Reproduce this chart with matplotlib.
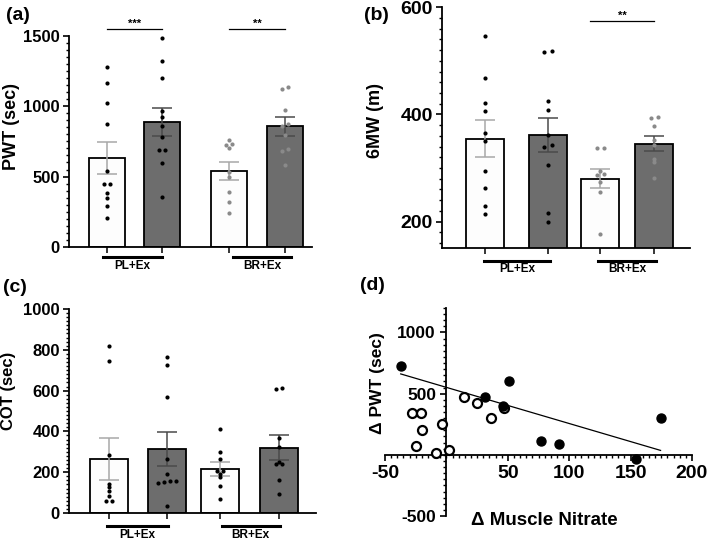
import numpy as np
import matplotlib.pyplot as plt
from matplotlib.ticker import MultipleLocator

plt.rcParams['font.family'] = ['Liberation Sans', 'DejaVu Sans']
plt.rcParams['font.weight'] = 'bold'
plt.rcParams['axes.unicode_minus'] = False

groups = ['PL+Ex', 'BR+Ex']

# (a) PWT (sec)
pwt_mean = [633, 889, 540, 856]
pwt_sem = [114, 100, 65, 66]
pwt_pts = [
    [1280, 1161, 1021, 875, 538, 448, 448, 384, 346, 289, 209],
    [1481, 1320, 1199, 967, 924, 858, 782, 690, 690, 593, 358],
    [763, 728, 723, 704, 529, 495, 391, 323, 242],
    [1138, 1124, 976, 872, 860, 794, 694, 682, 581],
]

# (b) 6MW (m)
mw_mean = [355, 361, 280, 345]
mw_sem = [34, 32, 18, 14]
mw_pts = [
    [546, 468, 422, 406, 365, 350, 295, 263, 229, 214],
    [518, 517, 425, 409, 361, 342, 339, 305, 215, 199],
    [338, 338, 295, 289, 287, 274, 256, 177],
    [395, 393, 378, 353, 342, 317, 311, 282],
]

# (c) COT (sec)
cot_mean = [265, 314, 214, 320]
cot_sem = [101, 85, 34, 60]
cot_pts = [
    [818, 746, 284, 144, 127, 108, 83, 57, 57],
    [763, 725, 570, 266, 190, 157, 155, 150, 145, 34],
    [412, 297, 263, 207, 207, 193, 178, 132, 67],
    [611, 608, 369, 325, 251, 238, 238, 160, 95],
]

# (d) delta PWT vs delta muscle nitrate
br_x = [-37.2, 31.3, 50.8, 46.2, 76.8, 91.5, 174.4, 154]
br_y = [729, 470, 604, 402, 115, 85, 304, -35]
pl_x = [14.5, 25.3, 36.2, 46.7, -28.3, -20.7, -19.6, -25.0, -3.9, -8.3, 1.8]
pl_y = [470, 427, 301, 383, 342, 342, 203, 74, 249, 11, 38]

W, H = 709, 540
fig = plt.figure(figsize=(W / 100, H / 100), dpi=100)


def px_axes(left, top, right, bottom):
    return fig.add_axes([left / W, 1 - bottom / H, (right - left) / W, (bottom - top) / H])


def swarm(vals, thr, step):
    # spread near-equal values side by side
    vals = np.asarray(vals, float)
    order = np.argsort(vals)
    off = np.zeros(len(vals))
    cluster = [order[0]]
    for i in order[1:]:
        if vals[i] - vals[cluster[-1]] < thr:
            cluster.append(i)
        else:
            n = len(cluster)
            off[cluster] = (np.arange(n) - (n - 1) / 2) * step
            cluster = [i]
    n = len(cluster)
    off[cluster] = (np.arange(n) - (n - 1) / 2) * step
    return off


def bar_panel(ax, xpos, width, means, sems, pts, thr, step, dot_cols):
    fills = ['#fdfdfd', '#6d6d6d', '#fdfdfd', '#6d6d6d']
    ecols = ['#a8a8a8', '#4a4a4a', '#a8a8a8', '#4a4a4a']
    ax.bar(xpos, means, width, color=fills, edgecolor='black', linewidth=1.3, zorder=1)
    for i in range(4):
        ax.errorbar(xpos[i], means[i], yerr=sems[i], fmt='none', ecolor=ecols[i],
                    elinewidth=1.1, capsize=7, capthick=1.1, zorder=2)
        off = swarm(pts[i], thr, step)
        ax.scatter(xpos[i] + off, pts[i], s=9, color=dot_cols[i], zorder=3, linewidths=0)
    for s in ['top', 'right']:
        ax.spines[s].set_visible(False)
    for s in ['left', 'bottom']:
        ax.spines[s].set_linewidth(1.3)
    ax.set_xticks(xpos)
    ax.set_xticklabels([])
    ax.tick_params(axis='x', length=4, width=1.1)
    ax.tick_params(axis='y', which='major', length=4, width=1.2, pad=2.5)
    ax.tick_params(axis='y', which='minor', length=2.5, width=1)


def ylab(ax, x, y, text, fs):
    ax.text(x, y, text, transform=ax.transAxes, rotation=90, ha='center', va='center',
            fontsize=fs, fontweight='bold')


def group_lines(ax, spans, y_line, y_text, fs):
    tr = ax.get_xaxis_transform()
    for (x0, x1), g in zip(spans, groups):
        ax.plot([x0, x1], [y_line, y_line], color='black', lw=2.2, transform=tr, clip_on=False)
        ax.text((x0 + x1) / 2, y_text, g, transform=tr, ha='center', va='center',
                fontsize=fs, fontweight='bold')


def sig(ax, x0, x1, y, label):
    ax.plot([x0, x1], [y, y], color='black', lw=0.9, clip_on=False)
    ax.text((x0 + x1) / 2, y, label, ha='center', va='bottom', fontsize=8, fontweight='bold')


# ---- (a)
ax_a = px_axes(69, 35.7, 312, 247)
a_x = np.array([0, 1, 2.22, 3.24])
bar_panel(ax_a, a_x, 0.65, pwt_mean, pwt_sem, pwt_pts, 16, 0.12,
          ['black', 'black', '#8a8a8a', '#8a8a8a'])
ax_a.set_xlim(-0.69, 3.73)
ax_a.set_ylim(0, 1500)
ax_a.set_yticks([0, 500, 1000, 1500])
ax_a.yaxis.set_minor_locator(MultipleLocator(50))
ax_a.tick_params(axis='y', labelsize=12)
ylab(ax_a, -0.235, 0.57, 'PWT (sec)', 13)
group_lines(ax_a, [(-0.07, 1.0), (2.29, 3.35)], -0.047, -0.09, 8.5)
sig(ax_a, 0, 1, 1548, '***')
sig(ax_a, 2.22, 3.24, 1548, '**')

# ---- (b)
ax_b = px_axes(442, 7.3, 690, 248.3)
b_x = np.array([0, 1.05, 1.92, 2.82])
bar_panel(ax_b, b_x, 0.64, mw_mean, mw_sem, mw_pts, 6, 0.117,
          ['black', 'black', '#8a8a8a', '#8a8a8a'])
ax_b.set_xlim(-0.717, 3.417)
ax_b.set_ylim(150, 600)
ax_b.set_yticks([200, 400, 600])
ax_b.yaxis.set_minor_locator(MultipleLocator(20))
ax_b.tick_params(axis='y', labelsize=14)
ylab(ax_b, -0.27, 0.53, '6MW (m)', 13)
group_lines(ax_b, [(-0.02, 1.08), (1.88, 2.85)], -0.053, -0.085, 8.5)
sig(ax_b, 1.75, 2.82, 575, '**')

# ---- (c)
ax_c = px_axes(69, 309, 316, 513)
c_x = np.array([0, 1.036, 1.99, 3.04])
bar_panel(ax_c, c_x, 0.68, cot_mean, cot_sem, cot_pts, 12, 0.107,
          ['black'] * 4)
ax_c.set_xlim(-0.714, 3.70)
ax_c.set_ylim(0, 1000)
ax_c.set_yticks([0, 200, 400, 600, 800, 1000])
ax_c.yaxis.set_minor_locator(MultipleLocator(20))
ax_c.tick_params(axis='y', labelsize=12)
ylab(ax_c, -0.245, 0.60, 'COT (sec)', 12)
group_lines(ax_c, [(-0.04, 1.05), (2.02, 3.05)], -0.064, -0.108, 8.5)

# ---- (d)
ax_d = px_axes(385, 308, 692, 516)
ax_d.scatter(pl_x, pl_y, s=42, facecolors='white', edgecolors='black', linewidths=1.6, zorder=3)
ax_d.scatter(br_x, br_y, s=42, color='black', zorder=3)
coef = np.polyfit(br_x, br_y, 1)
fx = np.array([min(br_x), max(br_x)])
ax_d.plot(fx, np.polyval(coef, fx), color='black', lw=0.9, zorder=2)
ax_d.set_xlim(-50, 200)
ax_d.set_ylim(-500, 1200)
for s in ['top', 'right']:
    ax_d.spines[s].set_visible(False)
ax_d.spines['left'].set_position(('data', 0))
ax_d.spines['bottom'].set_position(('data', 0))
for s in ['left', 'bottom']:
    ax_d.spines[s].set_linewidth(1.3)
ax_d.set_xticks([-50, 50, 100, 150, 200])
ax_d.set_yticks([-500, 500, 1000])
ax_d.xaxis.set_minor_locator(MultipleLocator(5))
ax_d.yaxis.set_minor_locator(MultipleLocator(50))
ax_d.tick_params(axis='x', labelsize=14, length=4, width=1.2)
ax_d.tick_params(axis='y', labelsize=12.5, length=4, width=1.2)
ax_d.tick_params(which='minor', length=2.5, width=1)
ax_d.text(-0.026, 0.64, '\u0394 PWT (sec)', transform=ax_d.transAxes, rotation=90,
          ha='center', va='center', fontsize=12.5, fontweight='bold')
ax_d.text(0.52, -0.02, '\u0394 Muscle Nitrate', transform=ax_d.transAxes,
          ha='center', va='center', fontsize=13.5, fontweight='bold')

# panel letters
for lab, x, y in [('(a)', 6, 15), ('(b)', 364, 15), ('(c)', 3, 287), ('(d)', 360, 285)]:
    fig.text(x / W, 1 - y / H, lab, ha='left', va='center', fontsize=14, fontweight='bold')

fig.savefig('out.png', dpi=100)
